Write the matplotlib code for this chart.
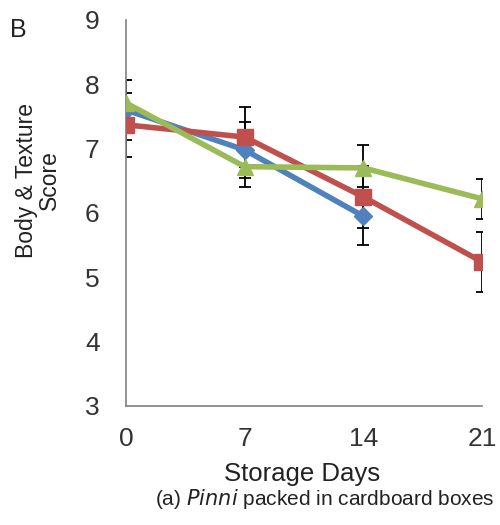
import numpy as np
import matplotlib.pyplot as plt

plt.rcParams['font.family'] = ['Liberation Sans', 'DejaVu Sans']

days = [0, 7, 14, 21]

# mean scores and standard errors for each packing treatment
blue_score = [7.60, 6.98, 5.95]
blue_err = [0.47, 0.44, 0.45]
red_score = [7.37, 7.18, 6.25, 5.24]
red_err = [0.50, 0.47, 0.48, 0.47]
green_score = [7.71, 6.72, 6.70, 6.22]
green_err = [0.36, 0.32, 0.36, 0.31]

c_blue = '#4F81BD'
c_red = '#C0504D'
c_green = '#9BBB59'

fig = plt.figure(figsize=(5, 5.25), dpi=100)
ax = fig.add_axes([0.252, 0.2267, 0.712, 0.7353])

series = [
    (days[:3], blue_score, blue_err, c_blue, 'D', 9),
    (days, red_score, red_err, c_red, 's', 11),
    (days, green_score, green_err, c_green, '^', 11),
]

for x, y, e, col, mk, ms in series:
    ax.errorbar(x, y, yerr=e, fmt='none', ecolor='black', elinewidth=1.3,
                capsize=4, capthick=1.3, zorder=2)
for x, y, e, col, mk, ms in series:
    ax.plot(x, y, color=col, marker=mk, markersize=ms, linewidth=4,
            markeredgecolor=col, zorder=3)

ax.set_xlim(0, 21)
ax.set_ylim(3, 9)
ax.set_xticks(days)
ax.set_yticks(np.arange(3, 10, 1))
ax.tick_params(axis='y', length=0, pad=19, labelsize=19, colors='#333333')
ax.tick_params(axis='x', length=0, pad=15, labelsize=19, colors='#333333')
for s in ['top', 'right']:
    ax.spines[s].set_visible(False)
for s in ['left', 'bottom']:
    ax.spines[s].set_color('#808080')
    ax.spines[s].set_linewidth(1.2)

fig.text(0.604, 0.097, 'Storage Days', ha='center', va='center',
         fontsize=18.5, color='#222222')
fig.text(0.075, 0.657, 'Body & Texture\nScore', ha='center', va='center',
         rotation=90, fontsize=16.5, color='#222222', linespacing=1.0)
fig.text(0.036, 0.943, 'B', ha='center', va='center', fontsize=18,
         color='#222222')
fig.text(0.99, 0.05, r'(a) $\it{Pinni}$ packed in cardboard boxes',
         ha='right', va='center', fontsize=15, color='#222222')

fig.savefig('out.png', dpi=100)
